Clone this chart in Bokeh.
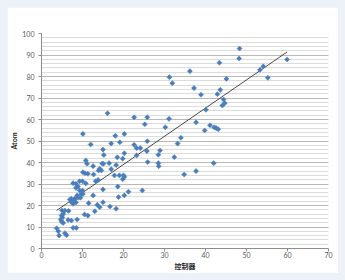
import math
from bokeh.plotting import figure
from bokeh.models import SingleIntervalTicker, Range1d
from bokeh.layouts import column
from bokeh.embed import file_html
from bokeh.resources import INLINE

# 控制器 values (x) and Atom values (y)
ctrl = [3.7, 4.1, 4.3, 5.7, 6.1,
        5.3, 4.9, 5.1, 4.7, 4.9, 5.3,
        5.0, 5.7, 6.6, 6.5, 7.3, 8.7, 7.7, 8.5,
        6.9, 7.3, 7.9, 8.1, 7.3, 8.4, 7.7,
        8.7, 8.9, 9.5, 9.3, 10.0, 9.7, 10.1, 8.9, 8.4,
        7.7, 8.4, 9.3, 10.0, 10.8,
        10.1, 10.6, 11.3, 12.7, 10.8, 11.1, 12.6, 12.0, 10.1,
        15.0, 15.2, 14.8, 15.1, 16.5, 13.9, 14.6, 14.2, 17.0,
        13.2, 13.8, 15.0, 17.0, 18.0, 20.2, 19.1, 22.6, 25.8,
        16.1, 22.6, 25.8, 25.2, 30.2, 31.1,
        23.2, 24.1, 28.9, 28.5, 25.7, 23.2, 20.2, 18.5, 19.8, 18.2,
        25.9, 28.5, 28.6, 17.8, 19.0, 20.0, 20.2, 19.8, 18.6,
        21.2, 24.6, 18.8, 20.2, 16.7, 18.2, 15.0, 13.6, 14.2, 13.0,
        12.6, 11.5, 10.5, 11.3,
        31.2, 31.9, 36.2, 43.4, 48.2, 48.3,
        45.1, 37.2, 38.9, 42.9, 43.6, 44.4, 44.7, 44.1, 40.1,
        37.7, 41.1, 42.1, 42.6, 43.1, 39.8,
        34.0, 33.2, 32.4, 42.0, 34.8, 37.7,
        53.3, 54.1, 59.9, 55.2]
atom = [9.4, 8.0, 6.0, 7.1, 6.2,
        16.1, 15.3, 14.4, 13.5, 12.5, 11.9,
        17.7, 17.7, 17.5, 13.3, 13.0, 13.5, 9.6, 9.6,
        22.8, 23.1, 22.3, 23.1, 21.5, 21.4, 20.8,
        24.7, 23.6, 23.6, 27.0, 27.0, 25.4, 25.4, 28.8, 28.2,
        30.4, 30.1, 31.3, 31.3, 30.3,
        35.5, 35.0, 34.8, 34.4, 40.9, 39.4, 38.3, 48.4, 53.3,
        46.0, 43.5, 39.5, 39.4, 39.7, 36.3, 36.3, 37.1, 36.9,
        31.3, 31.9, 27.5, 48.8, 52.4, 53.3, 49.4, 48.2, 49.9,
        62.9, 61.0, 61.0, 57.8, 56.4, 60.3,
        46.7, 46.7, 45.6, 43.6, 45.3, 43.3, 44.3, 42.4, 41.8, 38.8,
        40.2, 39.7, 38.3, 34.0, 34.0, 34.0, 33.3, 32.2, 28.8,
        26.4, 27.0, 23.9, 24.7, 19.5, 18.5, 21.5, 20.3, 19.2, 17.3,
        24.7, 21.1, 15.8, 15.3,
        79.7, 76.9, 82.5, 86.4, 88.4, 93.0,
        78.9, 74.6, 71.5, 71.8, 73.8, 69.3, 67.6, 66.5, 64.5,
        58.7, 57.3, 56.4, 56.0, 55.5, 54.9,
        51.5, 48.8, 42.5, 39.7, 34.4, 36.0,
        83.1, 84.7, 87.9, 79.4]

# linear trend line end points
trend_x = [3.7, 59.9]
trend_y = [17.7, 91.4]

x_ticks_interval = 10
y_ticks_interval = 10

p = figure(width=331, height=266,
           x_range=Range1d(0, 70), y_range=Range1d(0, 100),
           output_backend="svg", toolbar_location=None,
           min_border_left=0, min_border_right=10,
           min_border_top=26, min_border_bottom=0)
p.background_fill_color = "white"
p.border_fill_color = "white"
p.outline_line_color = None

p.xaxis.ticker = SingleIntervalTicker(interval=x_ticks_interval, num_minor_ticks=0)
p.yaxis.ticker = SingleIntervalTicker(interval=y_ticks_interval, num_minor_ticks=5)

p.xgrid.grid_line_color = None
p.ygrid.grid_line_color = "#b8b8b8"
p.ygrid.grid_line_width = 1
p.ygrid.minor_grid_line_color = "#dcdcdc"

for ax in (p.xaxis, p.yaxis):
    ax.axis_line_color = "#8c8c8c"
    ax.major_tick_line_color = "#8c8c8c"
    ax.major_tick_in = 0
    ax.major_tick_out = 3
    ax.minor_tick_line_color = None
    ax.major_label_text_font = "Lato"
    ax.major_label_text_font_size = "7px"
    ax.major_label_text_color = "#595959"
    ax.axis_label_text_font_size = "7px"
    ax.axis_label_text_font_style = "bold"
    ax.axis_label_text_color = "#262626"

p.xaxis.axis_label = "控制器"
p.xaxis.axis_label_text_font = "Noto Sans CJK SC"
p.xaxis.major_label_standoff = 0
p.xaxis.axis_label_standoff = 0
p.yaxis.axis_label = "Atom"
p.yaxis.axis_label_text_font = "Lato"
p.yaxis.major_label_standoff = 3
p.yaxis.axis_label_standoff = 1

p.line(trend_x, trend_y, line_color="#1a1a1a", line_width=0.8)
p.scatter(ctrl, atom, marker="square", angle=math.pi / 4, size=3.6,
          fill_color="#4a7ebb", line_color="#4a7ebb", line_width=0.5)

layout = column(p, styles={"background-color": "#edf2f9", "padding": "7px"})

open("out.html", "w").write(file_html(layout, INLINE))
